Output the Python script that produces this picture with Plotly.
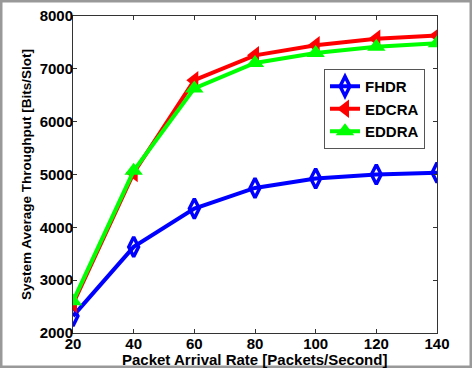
import plotly.graph_objects as go

x_rate = [20, 40, 60, 80, 100, 120, 140]
fhdr = [2320, 3630, 4355, 4745, 4925, 5000, 5035]
edcra = [2550, 5030, 6785, 7255, 7445, 7570, 7630]
eddra = [2600, 5070, 6630, 7110, 7300, 7420, 7485]
y_ticks = [2000, 3000, 4000, 5000, 6000, 7000, 8000]

L, R, T, B = 73, 35, 16, 35
W, H = 472, 368
pw, ph = W - L - R, H - T - B

fig = go.Figure()
fig.add_trace(go.Scatter(x=x_rate, y=fhdr, name="<b>FHDR</b>", mode="lines+markers",
                         line=dict(color="#0000ff", width=4),
                         marker=dict(symbol="diamond-tall-open", size=14, line=dict(width=3.5, color="#0000ff"))))
fig.add_trace(go.Scatter(x=x_rate, y=edcra, name="<b>EDCRA</b>", mode="lines+markers",
                         line=dict(color="#ff0000", width=4),
                         marker=dict(symbol="triangle-left", size=16, color="#ff0000")))
fig.add_trace(go.Scatter(x=x_rate, y=eddra, name="<b>EDDRA</b>", mode="lines+markers",
                         line=dict(color="#00ff00", width=4),
                         marker=dict(symbol="triangle-up", size=16, color="#00ff00")))

axfont = dict(family="Liberation Sans", size=15, color="black")
fig.update_layout(
    width=W, height=H,
    margin=dict(l=L, r=R, t=T, b=B, autoexpand=False),
    paper_bgcolor="white", plot_bgcolor="white",
    font=dict(family="Liberation Sans", color="black"),
    xaxis=dict(range=[20, 140], tickvals=x_rate, ticktext=["<b>%d</b>" % v for v in x_rate],
               ticks="inside", ticklen=4, tickcolor="#333", showline=True, linecolor="#333",
               linewidth=1, mirror="ticks", showgrid=False, zeroline=False, tickfont=axfont,
               ticklabelstandoff=-3, automargin=False),
    yaxis=dict(range=[2000, 8000], tickvals=y_ticks,
               ticktext=["<b>%d</b>" % v for v in y_ticks],
               ticks="inside", ticklen=4, tickcolor="#333", showline=True, linecolor="#333",
               linewidth=1, mirror="ticks", showgrid=False, zeroline=False, tickfont=axfont,
               ticklabelstandoff=-4, automargin=False,
               title=dict(text="<b>System Average Throughput [Bits/Slot]</b>",
                          font=dict(family="Liberation Sans", size=13.5, color="black"), standoff=4)),
    legend=dict(x=(324 - L) / pw, y=1 - (69 - T) / ph, xanchor="left", yanchor="top",
                bgcolor="white", bordercolor="#555", borderwidth=1,
                font=dict(family="Liberation Sans", size=15, color="black"),
                itemwidth=30, tracegroupgap=0),
    showlegend=True,
)
fig.add_annotation(text="<b>Packet Arrival Rate [Packets/Second]</b>", xref="paper", yref="paper",
                   x=0.5 - 1 / pw, y=-(359 - (T + ph)) / ph, xanchor="center", yanchor="middle",
                   showarrow=False, font=dict(family="Liberation Sans", size=15, color="black"))
fig.add_shape(type="rect", xref="paper", yref="paper",
              x0=(1 - L) / pw, x1=(W - 1 - L) / pw, y0=-(H - 1 - T - ph) / ph, y1=1 + (T - 1) / ph,
              line=dict(color="#999", width=3), fillcolor="rgba(0,0,0,0)", layer="above")
fig.write_html("out.html")
